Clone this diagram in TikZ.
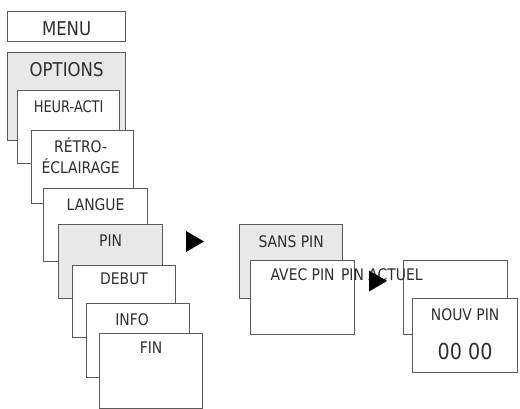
\documentclass[tikz,border=0pt]{standalone}
\usepackage{fontspec}
\setmainfont{DejaVu Sans}[FakeStretch=0.87]
\usetikzlibrary{positioning}
\definecolor{framegray}{HTML}{5A5A5A}
\definecolor{panelgray}{HTML}{E8E8E8}
\definecolor{textgray}{HTML}{2E2E2E}
\tikzset{
  panel/.style={draw=framegray, line width=1.2pt, fill=white, anchor=north west,
    inner sep=0pt, minimum width=103pt, minimum height=73pt},
  shaded/.style={panel, fill=panelgray},
  caption/.style={text=textgray, inner sep=0pt, align=center,
    font=\fontsize{16}{21}\selectfont},
  bigcaption/.style={caption, font=\fontsize{19}{22}\selectfont},
  digits/.style={caption, font=\fontsize{22}{26}\selectfont}
}
\newcommand\pointer[1]{
  \fill[black] (#1) ++(0,-10.5) -- ++(18,10.5) -- ++(-18,10.5) -- cycle;
}

\begin{document}
\begin{tikzpicture}[x=1pt,y=-1pt]
  \useasboundingbox (0,0) rectangle (520,409);

  % menu cascade
  \node[panel, minimum width=118pt, minimum height=30pt] (menu) at (7,11) {};
  \node[bigcaption] (menutxt) at ([yshift=-2pt]menu.center) {MENU};

  \node[shaded, minimum width=118pt, minimum height=88pt] (options) at (7,52) {};
  \node[bigcaption, below=10.5pt of options.north] (optionstxt) {OPTIONS};

  \node[panel, minimum width=102pt] (heur) at (17,90) {};
  \node[caption, below=10pt of heur.north, xscale=0.93] (heurtxt) {HEUR-ACTI};

  \node[panel, minimum width=102pt] (retro) at (31,130) {};
  \node[caption] (retrotxt) at ([xshift=-2pt,yshift=-26pt]retro.north) {RÉTRO-\\ÉCLAIRAGE};

  \node[panel, minimum width=104pt] (langue) at (43,188) {};
  \node[caption, below=10pt of langue.north] (languetxt) {LANGUE};

  \node[shaded, minimum width=104pt, minimum height=74pt] (pin) at (58,224) {};
  \node[caption, below=11pt of pin.north] (pintxt) {PIN};

  \node[panel, minimum height=72pt] (debut) at (72,265) {};
  \node[caption, below=8pt of debut.north] (debuttxt) {DEBUT};

  \node[panel, minimum height=74pt] (info) at (86,303) {};
  \node[caption, below=10pt of info.north, xshift=-6pt] (infotxt) {INFO};

  \node[panel, minimum height=75pt] (fin) at (99,333) {};
  \node[caption, below=9pt of fin.north] (fintxt) {FIN};

  \pointer{186,241.5}

  % pin choice
  \node[shaded, minimum height=74pt] (sans) at (239,224) {};
  \node[caption, below=11pt of sans.north] (sanstxt) {SANS PIN};

  \node[panel, minimum width=104pt, minimum height=74pt] (avec) at (250,260) {};
  \node[caption, below=8pt of avec.north] (avectxt) {AVEC PIN};

  % new pin
  \node[panel, minimum width=104pt, minimum height=74pt] (actuel) at (403,260) {};
  \node[caption, right=6pt of avectxt] (actueltxt) {PIN ACTUEL};

  \pointer{369,281}

  \node[panel, minimum width=105pt, minimum height=74pt] (nouv) at (412,298) {};
  \node[caption, below=10pt of nouv.north] (nouvtxt) {NOUV PIN};
  \node[digits, below=22pt of nouvtxt] (codetxt) {00 00};

\end{tikzpicture}
\end{document}
